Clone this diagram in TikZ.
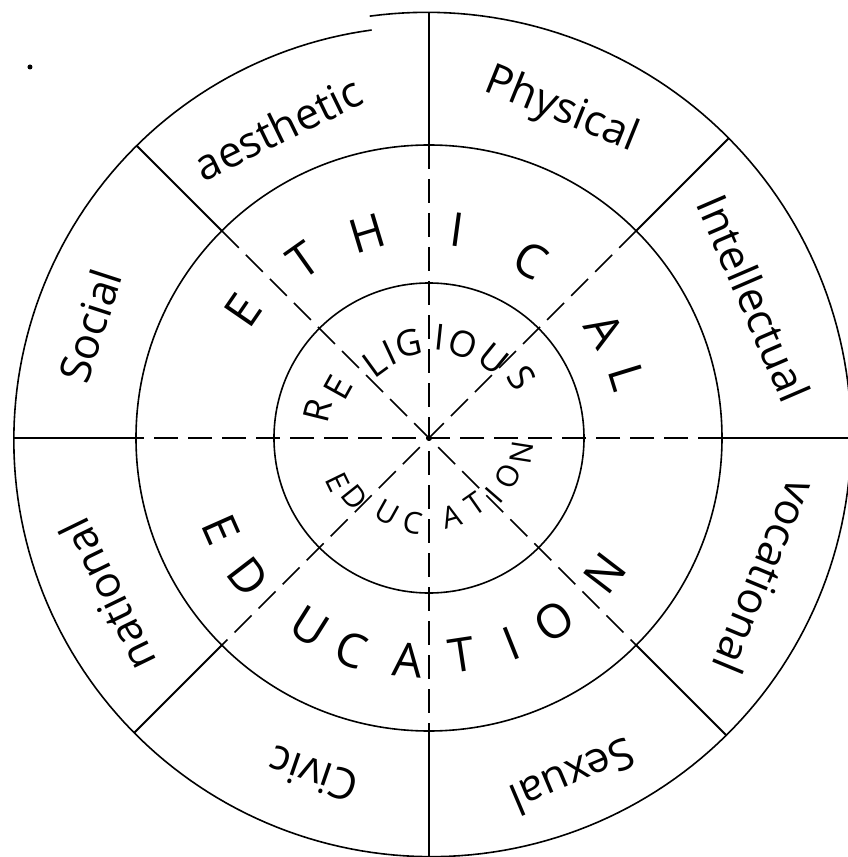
\documentclass[tikz,border=0pt]{standalone}
\usepackage{fontspec}
\setmainfont{Open Sans}

\begin{document}
\begin{tikzpicture}[x=1pt, y=1pt,
        ring/.style={line width=1.6pt},
        spoke/.style={line width=1.9pt},
        guide/.style={line width=1.6pt, dash pattern=on 24pt off 10pt},
        sector/.style={font=\fontsize{43}{43}\selectfont, inner sep=0pt},
        bigletter/.style={font=\fontsize{47}{47}\selectfont, inner sep=0pt},
        midletter/.style={font=\fontsize{36}{36}\selectfont, inner sep=0pt},
        smallletter/.style={font=\fontsize{30}{30}\selectfont, inner sep=0pt}
    ]
    \useasboundingbox (-429,-419) rectangle (418,438);
    \coordinate (o) at (0,0);

    % the three rings (the outer one is not quite closed at the top)
    \draw[ring] plot[domain=98:-262, samples=240]
        ({(426-14*(98-\x)/360)*cos(\x)}, {(426-14*(98-\x)/360)*sin(\x)});
    \draw[ring] (o) circle (293);
    \draw[ring] (o) circle (155);
    \fill (-399,371) circle (2.5);

    % solid spokes of the outer ring, dashed guides inside
    \foreach \a/\r in {0/422, 45/424, 90/426, 135/414, 180/415, 225/417, 270/419, 315/421}
        \draw[spoke] (\a:293) -- (\a:\r);
    \foreach \a in {0, 45, 90, 135}
        \draw[guide] (\a:293) -- (\a+180:293);

    % outer sectors
    \node[sector, rotate=-22] (physical) at (68:353) {Physical};
    \node[sector, rotate=26] (aesthetic) at (116:345) {aesthetic};
    \node[sector, rotate=72] (social) at (161.7:357) {Social};
    \node[sector, rotate=116] (national) at (206:358) {national};
    \node[sector, rotate=161] (civic) at (251:356) {Civic};
    \node[sector, rotate=203] (sexual) at (293:368) {Sexual};
    \node[sector, rotate=-112.5] (vocational) at (-22.5:364) {vocational};
    \node[sector, rotate=-66.7] (intellectual) at (23.3:354) {Intellectual};

    % middle ring
    \foreach \a/\r/\t [count=\i] in {145.5/226/E, 125.3/218/T, 106.8/214/H, 82.3/210/I,
            60.4/205/C, 31.5/206/A, 17.1/207/L}
        \node[bigletter, rotate=\a-90] (eth\i) at (\a:\r) {\t};
    \foreach \a/\r/\t [count=\i] in {203.9/227/E, 217.5/228/D, 237.8/223/U, 249.8/226/C,
            264.6/223/A, 278.6/219/T, 291.8/221/I, 304.2/222/O, 322.5/222/N}
        \node[bigletter, rotate=\a+90] (edu\i) at (\a:\r) {\t};

    % inner circle
    \foreach \a/\r/\t [count=\i] in {166/115/R, 151/104/E, 126/92/L, 115/94/I, 102/97/G,
            84/101/I, 70/100/O, 51/102/U, 33/111/S}
        \node[midletter, rotate=\a-90] (rel\i) at (\a:\r) {\t};
    \foreach \a/\r/\t [count=\i] in {206/102/E, 218.6/95/D, 240.8/86/U, 259/86/C,
            286/82/A, 305/80/T, 319/87/I, 334/88/O, 351/94/N}
        \node[smallletter, rotate=\a+90] (inedu\i) at (\a:\r) {\t};
\end{tikzpicture}
\end{document}
